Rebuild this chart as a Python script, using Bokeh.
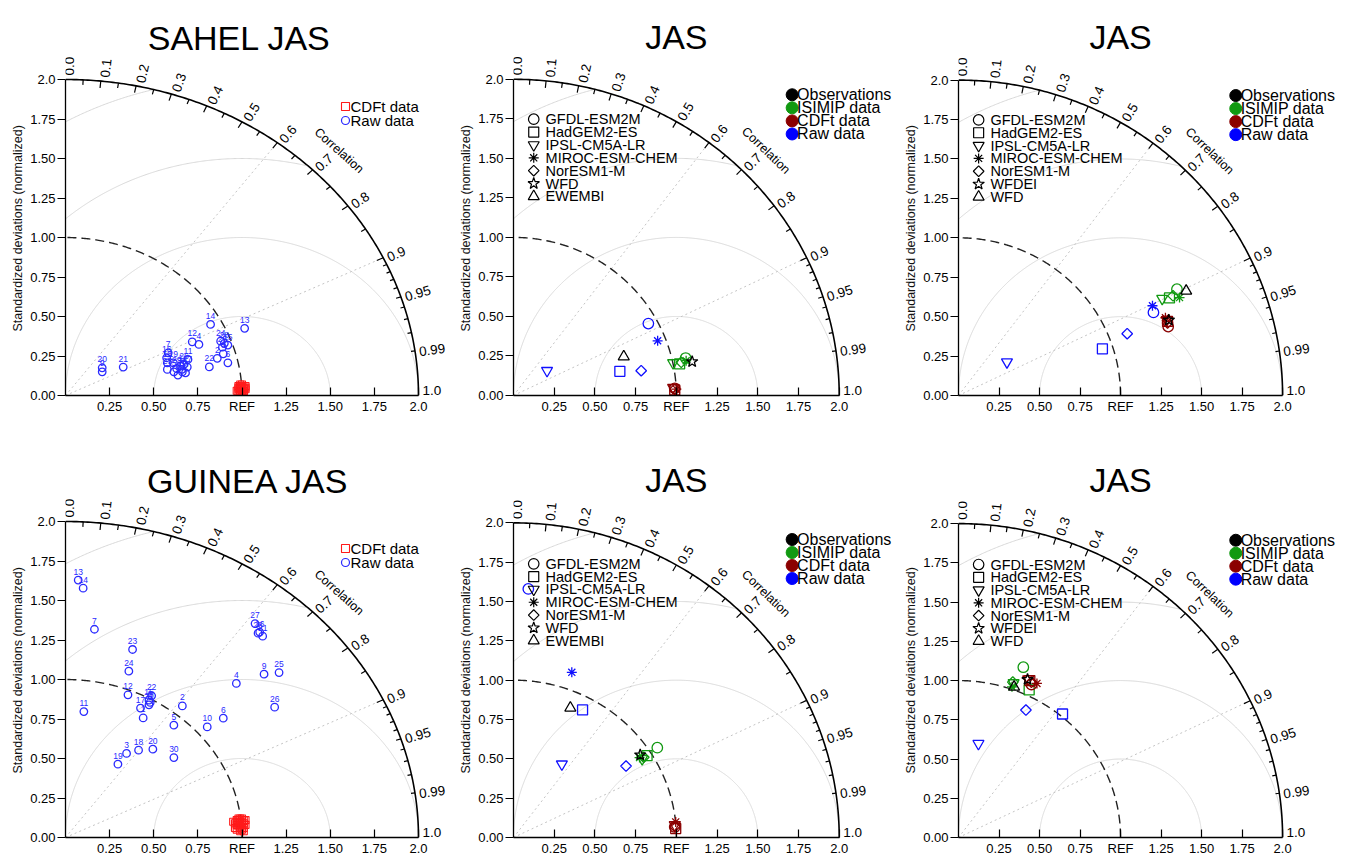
import math
import numpy as np
from bokeh.plotting import figure
from bokeh.models import (Range1d, FixedTicker, Label, LabelSet, ColumnDataSource,
                          CustomJSTickFormatter, Title)
from bokeh.layouts import column, row
from bokeh.embed import file_html
from bokeh.resources import INLINE
from bokeh.core.properties import value

FONT = "Liberation Sans"

# ------------------------------------------------------------------ data
# Each point is given by its Taylor-diagram components:
#   x = normalized sd * correlation, y = normalized sd * sqrt(1 - correlation^2)
titles = ["SAHEL JAS", "JAS", "JAS", "GUINEA JAS", "JAS", "JAS"]
y_title = "Standardized deviations (normalized)"

y_ticks = [0.0, 0.25, 0.5, 0.75, 1.0, 1.25, 1.5, 1.75, 2.0]
y_tick_labels = ["0.00", "0.25", "0.50", "0.75", "1.00", "1.25", "1.50", "1.75", "2.0"]
x_ticks = [0.25, 0.5, 0.75, 1.0, 1.25, 1.5, 1.75, 2.0]
x_tick_labels = ["0.25", "0.50", "0.75", "REF", "1.25", "1.50", "1.75", "2.0"]

corr_ticks = [0.0, 0.1, 0.2, 0.3, 0.4, 0.5, 0.6, 0.7, 0.8, 0.9, 0.95, 0.99, 1.0]
corr_tick_labels = ["0.0", "0.1", "0.2", "0.3", "0.4", "0.5", "0.6", "0.7", "0.8",
                    "0.9", "0.95", "0.99", "1.0"]
corr_major = [0.1, 0.2, 0.3, 0.4, 0.5, 0.6, 0.7, 0.8, 0.9]
corr_medium = [0.05, 0.15, 0.25, 0.35, 0.45, 0.55, 0.65, 0.75, 0.85, 0.95]
corr_small = [0.91, 0.92, 0.93, 0.94, 0.96, 0.97, 0.98, 0.99]
corr_dotted = [0.6, 0.9]
rms_circles = [0.5, 1.0, 1.5, 2.0]

# --- SAHEL, 30 members (ids 1..30)
sahel_raw_id = [str(i) for i in range(1, 31)]
sahel_raw_x = [0.652, 0.860, 0.894, 0.756, 0.614, 0.920, 0.582, 0.637, 0.208, 0.662,
               0.694, 0.718, 1.015, 0.822, 0.920, 0.573, 0.680, 0.577, 0.611, 0.208,
               0.327, 0.815, 0.577, 0.879, 0.889, 0.671, 0.690, 0.900, 0.630, 0.660]
sahel_raw_y = [0.186, 0.235, 0.264, 0.323, 0.150, 0.207, 0.270, 0.129, 0.150, 0.150,
               0.228, 0.340, 0.425, 0.450, 0.319, 0.239, 0.143, 0.207, 0.207, 0.175,
               0.180, 0.181, 0.165, 0.344, 0.306, 0.197, 0.180, 0.330, 0.170, 0.165]
sahel_cdft_x = [0.99, 1.00, 0.98, 1.01, 0.99, 1.00, 1.02, 0.98, 0.99, 1.00,
                1.01, 0.99, 0.97, 1.00, 1.02, 0.99, 1.00, 0.98, 1.01, 1.00,
                0.99, 1.01, 1.00, 0.98, 1.02, 0.99, 1.00, 1.01, 0.99, 1.00]
sahel_cdft_y = [0.03, 0.05, 0.04, 0.02, 0.06, 0.03, 0.04, 0.05, 0.02, 0.07,
                0.05, 0.04, 0.03, 0.02, 0.06, 0.05, 0.04, 0.06, 0.03, 0.05,
                0.07, 0.04, 0.03, 0.02, 0.05, 0.06, 0.04, 0.03, 0.05, 0.06]

# --- GUINEA, 30 members
guinea_raw_id = [str(i) for i in range(1, 31)]
guinea_raw_x = [0.440, 0.662, 0.346, 0.968, 0.614, 0.894, 0.164, 0.480, 1.125, 0.803,
                0.104, 0.354, 0.072, 0.100, 0.473, 1.100, 0.425, 0.414, 0.297, 0.495,
                1.117, 0.488, 0.380, 0.359, 1.210, 1.185, 1.074, 1.091, 0.473, 0.614]
guinea_raw_y = [0.757, 0.833, 0.532, 0.975, 0.711, 0.755, 1.318, 0.855, 1.034, 0.700,
                0.797, 0.903, 1.629, 1.578, 0.869, 1.300, 0.819, 0.553, 0.464, 0.559,
                1.274, 0.897, 1.190, 1.053, 1.044, 0.825, 1.354, 1.293, 0.840, 0.506]
guinea_cdft_x = [0.97, 0.99, 1.00, 0.96, 1.01, 0.98, 1.00, 0.97, 0.99, 1.02,
                 0.95, 0.98, 1.00, 0.99, 1.01, 0.97, 0.98, 1.00, 0.99, 1.02,
                 0.96, 0.98, 1.00, 0.99, 1.01, 0.97, 0.99, 1.00, 0.98, 1.01]
guinea_cdft_y = [0.08, 0.10, 0.06, 0.09, 0.11, 0.07, 0.12, 0.05, 0.09, 0.08,
                 0.10, 0.12, 0.09, 0.04, 0.06, 0.11, 0.09, 0.10, 0.07, 0.11,
                 0.06, 0.08, 0.05, 0.12, 0.09, 0.10, 0.06, 0.08, 0.11, 0.04]

# --- GCM ensembles (order: GFDL, HadGEM2, IPSL, MIROC, NorESM1)
models = ["GFDL-ESM2M", "HadGEM2-ES", "IPSL-CM5A-LR", "MIROC-ESM-CHEM", "NorESM1-M"]
obs_wfd = ["WFD", "EWEMBI"]
obs_wfdei = ["WFDEI", "WFD"]
colour_legend = ["Observations", "ISIMIP data", "CDFt data", "Raw data"]

sahel_wfd_raw_x = [0.828, 0.653, 0.206, 0.885, 0.784]
sahel_wfd_raw_y = [0.455, 0.153, 0.157, 0.346, 0.157]
sahel_wfd_isimip_x = [1.057, 1.020, 0.980, 1.060, 1.030]
sahel_wfd_isimip_y = [0.237, 0.200, 0.206, 0.220, 0.210]
sahel_wfd_cdft_x = [0.990, 0.990, 0.980, 1.000, 0.990]
sahel_wfd_cdft_y = [0.045, 0.035, 0.050, 0.040, 0.040]
sahel_wfd_obs_x = [1.097, 0.677]
sahel_wfd_obs_y = [0.214, 0.246]

sahel_wfdei_raw_x = [1.203, 0.888, 0.299, 1.197, 1.041]
sahel_wfdei_raw_y = [0.527, 0.296, 0.212, 0.569, 0.392]
sahel_wfdei_isimip_x = [1.348, 1.302, 1.257, 1.364, 1.324]
sahel_wfdei_isimip_y = [0.674, 0.619, 0.615, 0.621, 0.632]
sahel_wfdei_cdft_x = [1.294, 1.290, 1.285, 1.277, 1.290]
sahel_wfdei_cdft_y = [0.437, 0.470, 0.480, 0.493, 0.460]
sahel_wfdei_obs_x = [1.298, 1.405]
sahel_wfdei_obs_y = [0.478, 0.663]

guinea_wfd_raw_x = [0.091, 0.424, 0.297, 0.358, 0.691]
guinea_wfd_raw_y = [1.580, 0.811, 0.466, 1.050, 0.454]
guinea_wfd_isimip_x = [0.883, 0.820, 0.790, 0.774, 0.800]
guinea_wfd_isimip_y = [0.571, 0.520, 0.500, 0.508, 0.510]
guinea_wfd_cdft_x = [0.990, 0.996, 0.990, 0.996, 0.990]
guinea_wfd_cdft_y = [0.067, 0.057, 0.080, 0.099, 0.070]
guinea_wfd_obs_x = [0.778, 0.349]
guinea_wfd_obs_y = [0.525, 0.824]

guinea_wfdei_raw_x = [None, 0.642, 0.123, None, 0.416]   # GFDL / MIROC off the chart
guinea_wfdei_raw_y = [None, 0.787, 0.598, None, 0.812]
guinea_wfdei_isimip_x = [0.400, 0.436, 0.340, 0.330, 0.335]
guinea_wfdei_isimip_y = [1.085, 0.940, 0.985, 0.960, 0.990]
guinea_wfdei_cdft_x = [0.450, 0.440, 0.430, 0.484, 0.450]
guinea_wfdei_cdft_y = [0.975, 1.000, 1.010, 0.982, 0.990]
guinea_wfdei_obs_x = [0.426, 0.343]
guinea_wfdei_obs_y = [1.007, 0.959]

# ------------------------------------------------------------------ layout / style
# per panel: page position of the diagram origin and pixels per unit (x, y)
ORIGIN = [(65, 395, 176.5, 158.0), (508, 396, 165.0, 158.5), (951, 397, 165.0, 158.5),
          (65, 837, 176.5, 158.0), (508, 840, 165.0, 158.5), (951, 841, 165.0, 158.5)]
COL_X = [0, 453, 898]
COL_W = [453, 445, 447]
FRAME_R = [447, 894, 1343]
ROW_Y = [0, 430]
ROW_H = [430, 432]
FRAME_T = [4, 434]
TITLE_BASE = [37, 480]
TITLE_X = {0: 0.985, 3: 1.035}

RAW_C = "#1010ff"
ISI_C = "#119911"
CDF_C = "#8b0000"
OBS_C = "black"

MODEL_MARKERS = ["circle", "square", "inverted_triangle", "asterisk", "diamond"]
OBS_MARKERS = ["star", "triangle"]
MSIZE = {"circle": 10.5, "square": 10, "inverted_triangle": 11, "asterisk": 10,
         "star": 12, "triangle": 11}


def mstyle(m):
    if m == "diamond":
        return "square", 7.5, math.pi / 4
    return m, MSIZE[m], 0.0


def tick_fmt(t, l):
    return CustomJSTickFormatter(args=dict(t=t, l=l), code="""
        for (let i = 0; i < t.length; i++) { if (Math.abs(t[i] - tick) < 1e-6) return l[i]; }
        return "";""")


def make_base(i):
    ox, oy, kx, ky = ORIGIN[i]
    c, r = i % 3, i // 3
    x0, w, y0, h = COL_X[c], COL_W[c], ROW_Y[r], ROW_H[r]
    fr, ft = FRAME_R[c], FRAME_T[r]
    p = figure(width=w, height=h,
               x_range=Range1d(0, (fr - ox) / kx), y_range=Range1d(0, (oy - ft) / ky),
               output_backend="svg", toolbar_location=None, title=None,
               min_border_left=ox - x0, min_border_right=x0 + w - fr,
               min_border_top=ft - y0, min_border_bottom=y0 + h - oy)
    p.grid.visible = False
    p.outline_line_color = None
    p.background_fill_color = "white"
    p.border_fill_color = "white"

    p.xaxis.ticker = FixedTicker(ticks=x_ticks)
    p.xaxis.formatter = tick_fmt(x_ticks, x_tick_labels)
    p.yaxis.ticker = FixedTicker(ticks=y_ticks)
    p.yaxis.formatter = tick_fmt(y_ticks, y_tick_labels)
    for ax in (p.xaxis[0], p.yaxis[0]):
        ax.bounds = (0, 2)
        ax.axis_line_color = "black"
        ax.axis_line_width = 1.3
        ax.major_tick_line_color = "black"
        ax.major_tick_line_width = 1.2
        ax.minor_tick_line_color = None
        ax.major_label_text_font = FONT
        ax.major_label_text_font_size = "13px"
        ax.major_label_text_color = "black"
    p.xaxis.major_tick_in = 8
    p.xaxis.major_tick_out = 0
    p.xaxis.major_label_standoff = 3
    p.yaxis.major_tick_in = 0
    p.yaxis.major_tick_out = 8
    p.yaxis.major_label_standoff = 2

    # y-axis title (outside the axis, reading upwards)
    p.add_layout(Title(text=y_title, align="left", offset=64, text_font=FONT,
                       text_font_size="12.5px", text_font_style="normal",
                       text_color="#111111", standoff=6), "left")

    # RMS circles around REF
    for rr in rms_circles:
        phi = np.linspace(0, np.pi, 721)
        xs = 1 + rr * np.cos(phi)
        ys = rr * np.sin(phi)
        m = (xs >= 0) & (xs * xs + ys * ys <= 4.0 + 1e-9)
        p.line(xs[m], ys[m], line_color="#d8d8d8", line_width=1)
    # dotted correlation lines
    dx = [2 * cc for cc in corr_dotted]
    dy = [2 * math.sqrt(1 - cc * cc) for cc in corr_dotted]
    p.segment(x0=[0] * len(dx), y0=[0] * len(dy), x1=dx, y1=dy,
              line_color="#c4c4c4", line_width=1, line_dash="2 3")
    # reference (sd = 1) dashed arc and outer arc
    th = np.linspace(0, np.pi / 2, 200)
    p.line(np.cos(th), np.sin(th), line_color="#222222", line_width=1.4, line_dash="9 5")
    p.line(2 * np.cos(th), 2 * np.sin(th), line_color="black", line_width=1.6)

    def unit(cc):
        t = math.acos(cc)
        ux, uy = kx * math.cos(t), ky * math.sin(t)
        n = math.hypot(ux, uy)
        return t, ux / n, uy / n

    for cors, ln in ((corr_major, 7), (corr_medium, 5), (corr_small, 4)):
        xa, ya, xb, yb = [], [], [], []
        for cc in cors:
            t, ux, uy = unit(cc)
            ax0, ay0 = 2 * math.cos(t), 2 * math.sin(t)
            xa.append(ax0); ya.append(ay0)
            xb.append(ax0 - ln * ux / kx); yb.append(ay0 - ln * uy / ky)
        p.segment(x0=xa, y0=ya, x1=xb, y1=yb, line_color="black", line_width=1.2)

    # correlation labels
    lx, ly, la = [], [], []
    for cc in corr_ticks:
        t, ux, uy = unit(cc)
        shift = -5.0 if cc == 1.0 else 1 + 3 * (t / (math.pi / 2))
        sx = 2 * kx * math.cos(t) + 4 * ux + shift * uy
        sy = 2 * ky * math.sin(t) + 4 * uy - shift * ux
        if cc == 1.0:
            sy = 5.0
        lx.append(sx / kx); ly.append(sy / ky); la.append(math.atan2(uy, ux))
    src = ColumnDataSource(dict(x=lx, y=ly, a=la, t=corr_tick_labels))
    p.add_layout(LabelSet(x="x", y="y", text="t", angle="a", source=src,
                          text_font=value(FONT), text_font_size="13.5px",
                          text_align="left", text_baseline="middle", text_color="black"))
    p.add_layout(Label(x=1.55, y=1.55, text="Correlation", angle=-math.atan(ky / kx),
                       text_font=FONT, text_font_size="12.5px", text_align="center",
                       text_baseline="middle", text_color="black"))
    # panel title
    p.add_layout(Label(x=TITLE_X.get(i, 1.0), y=(oy - TITLE_BASE[r]) / ky, text=titles[i],
                       text_font=FONT, text_font_size="34px", text_align="center",
                       text_baseline="alphabetic", text_color="black"))
    return p, kx, ky


def members_panel(i, raw_id, raw_x, raw_y, cdft_x, cdft_y):
    p, kx, ky = make_base(i)
    p.scatter(x=cdft_x, y=cdft_y, marker="square", size=7, fill_color=None,
              line_color="#ff1a1a", line_width=1.1)
    p.scatter(x=raw_x, y=raw_y, marker="circle", size=7.5, fill_color=None,
              line_color="#2a2aff", line_width=1.3)
    src = ColumnDataSource(dict(x=raw_x, y=[v + 8.5 / ky for v in raw_y], t=raw_id))
    p.add_layout(LabelSet(x="x", y="y", text="t", source=src, text_font=value(FONT),
                          text_font_size="8.5px", text_color="#2a2aff",
                          text_align="center", text_baseline="middle"))
    # legend
    gx = 280 / kx
    p.scatter(x=[gx], y=[2 - 27 / ky], marker="square", size=8, fill_color=None,
              line_color="#ff1a1a", line_width=1.1)
    p.scatter(x=[gx], y=[2 - 41 / ky], marker="circle", size=8, fill_color=None,
              line_color="#2a2aff", line_width=1.2)
    lsrc = ColumnDataSource(dict(x=[gx + 5 / kx] * 2, y=[2 - 27 / ky, 2 - 41 / ky],
                                 t=["CDFt data", "Raw data"]))
    p.add_layout(LabelSet(x="x", y="y", text="t", source=lsrc, text_font=value(FONT),
                          text_font_size="15px", text_color="black",
                          text_align="left", text_baseline="middle"))
    return p


def group_source(xs, ys, markers):
    d = dict(x=[], y=[], marker=[], size=[], angle=[])
    for x, y, m in zip(xs, ys, markers):
        if x is None or y is None:
            continue
        mk, sz, an = mstyle(m)
        d["x"].append(x); d["y"].append(y); d["marker"].append(mk)
        d["size"].append(sz); d["angle"].append(an)
    return ColumnDataSource(d)


def ensemble_panel(i, obs_names, raw_x, raw_y, isi_x, isi_y, cdf_x, cdf_y, obs_x, obs_y):
    p, kx, ky = make_base(i)
    for xs, ys, col, mks in ((raw_x, raw_y, RAW_C, MODEL_MARKERS),
                             (isi_x, isi_y, ISI_C, MODEL_MARKERS),
                             (cdf_x, cdf_y, CDF_C, MODEL_MARKERS),
                             (obs_x, obs_y, OBS_C, OBS_MARKERS)):
        p.scatter(x="x", y="y", marker="marker", size="size", angle="angle",
                  source=group_source(xs, ys, mks), fill_color=None,
                  line_color=col, line_width=1.3)
    # shape legend
    names = models + obs_names
    mks = MODEL_MARKERS + OBS_MARKERS
    top_off = 40.0 if i < 3 else 41.3
    ys_ = [2 - (top_off + 12.9 * k) / ky for k in range(len(names))]
    xs_ = [20.5 / kx] * len(names)
    p.scatter(x="x", y="y", marker="marker", size="size", angle="angle",
              source=group_source(xs_, ys_, mks), fill_color=None,
              line_color="black", line_width=1.2)
    p.add_layout(LabelSet(x="x", y="y", text="t",
                          source=ColumnDataSource(dict(x=[(20.5 + 12) / kx] * len(names),
                                                       y=ys_, t=names)),
                          text_font=value(FONT), text_font_size="14.5px",
                          text_color="black", text_align="left", text_baseline="middle"))
    # colour legend
    ccols = [OBS_C, ISI_C, CDF_C, "#0000ff"]
    c_off = 15.5 if i < 3 else 16.8
    cy = [2 - (c_off + 13.1 * k) / ky for k in range(4)]
    cx = [282.3 / kx] * 4
    p.scatter(x=cx, y=cy, marker="circle", size=12, fill_color=ccols, line_color=ccols)
    p.add_layout(LabelSet(x="x", y="y", text="t",
                          source=ColumnDataSource(dict(x=[(282.3 + 5) / kx] * 4, y=cy,
                                                       t=colour_legend)),
                          text_font=value(FONT), text_font_size="16px",
                          text_color="black", text_align="left", text_baseline="middle"))
    return p


p1 = members_panel(0, sahel_raw_id, sahel_raw_x, sahel_raw_y, sahel_cdft_x, sahel_cdft_y)
p2 = ensemble_panel(1, obs_wfd, sahel_wfd_raw_x, sahel_wfd_raw_y, sahel_wfd_isimip_x,
                    sahel_wfd_isimip_y, sahel_wfd_cdft_x, sahel_wfd_cdft_y,
                    sahel_wfd_obs_x, sahel_wfd_obs_y)
p3 = ensemble_panel(2, obs_wfdei, sahel_wfdei_raw_x, sahel_wfdei_raw_y, sahel_wfdei_isimip_x,
                    sahel_wfdei_isimip_y, sahel_wfdei_cdft_x, sahel_wfdei_cdft_y,
                    sahel_wfdei_obs_x, sahel_wfdei_obs_y)
p4 = members_panel(3, guinea_raw_id, guinea_raw_x, guinea_raw_y, guinea_cdft_x, guinea_cdft_y)
p5 = ensemble_panel(4, obs_wfd, guinea_wfd_raw_x, guinea_wfd_raw_y, guinea_wfd_isimip_x,
                    guinea_wfd_isimip_y, guinea_wfd_cdft_x, guinea_wfd_cdft_y,
                    guinea_wfd_obs_x, guinea_wfd_obs_y)
p6 = ensemble_panel(5, obs_wfdei, guinea_wfdei_raw_x, guinea_wfdei_raw_y, guinea_wfdei_isimip_x,
                    guinea_wfdei_isimip_y, guinea_wfdei_cdft_x, guinea_wfdei_cdft_y,
                    guinea_wfdei_obs_x, guinea_wfdei_obs_y)

layout = column(row(p1, p2, p3), row(p4, p5, p6))
open("out.html", "w").write(file_html(layout, INLINE))
